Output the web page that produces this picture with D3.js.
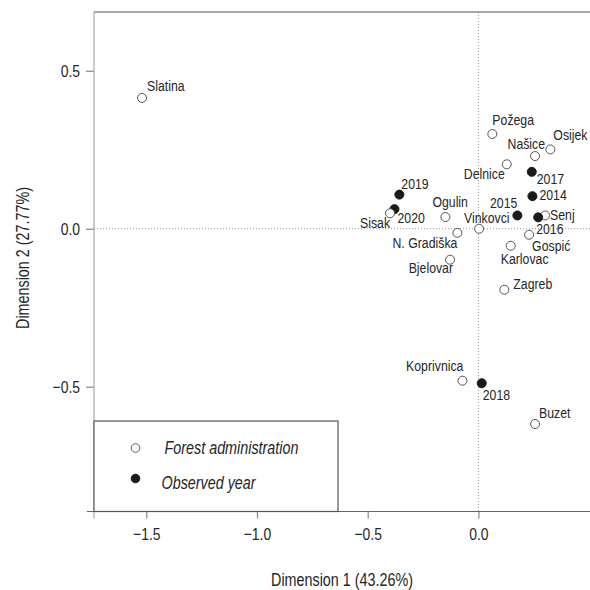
<!DOCTYPE html>
<html>
<head>
<meta charset="utf-8">
<script src="https://cdn.jsdelivr.net/npm/d3@7"></script>
<style>
  body { margin: 0; background: #fff; }
  svg { display: block; font-family: "Liberation Sans", Arial, sans-serif; }
</style>
</head>
<body>
<div id="chart"></div>
<script>
// correspondence analysis coordinates
const names = ["Slatina", "Požega", "Osijek", "Našice", "Delnice", "2017", "2014", "2019", "2020", "Sisak",
  "Ogulin", "2015", "Vinkovci", "Senj", "2016", "N. Gradiška", "Gospić", "Karlovac", "Bjelovar", "Zagreb",
  "Koprivnica", "2018", "Buzet"];
const dim1 = [-1.519, 0.063, 0.325, 0.256, 0.128, 0.241, 0.244, -0.357, -0.379, -0.399,
  -0.149, 0.176, 0.003, 0.301, 0.270, -0.095, 0.229, 0.146, -0.128, 0.117,
  -0.072, 0.015, 0.256];
const dim2 = [0.414, 0.300, 0.251, 0.230, 0.204, 0.180, 0.103, 0.108, 0.062, 0.049,
  0.037, 0.042, 0.000, 0.042, 0.036, -0.013, -0.019, -0.054, -0.098, -0.193,
  -0.481, -0.489, -0.618];
const kinds = ["fa", "fa", "fa", "fa", "fa", "yr", "yr", "yr", "yr", "fa",
  "fa", "yr", "fa", "fa", "yr", "fa", "fa", "fa", "fa", "fa",
  "fa", "yr", "fa"];

const legendLabels = ["Forest administration", "Observed year"];
const legendKinds = ["fa", "yr"];
const xTicks = [-1.5, -1.0, -0.5, 0.0];
const yTicks = [-0.5, 0.0, 0.5];
const xTitle = "Dimension 1 (43.26%)";
const yTitle = "Dimension 2 (27.77%)";

// label offsets in pixels from each point (dx, dy, anchor)
const labelPos = {
  "Slatina": [5, -7, "start"], "Požega": [0, -9, "start"], "Osijek": [3, -9, "start"],
  "Našice": [10, -7, "end"], "Delnice": [-2, 15, "end"], "2017": [5, 12, "start"],
  "2014": [7, 4, "start"], "2019": [2, -6, "start"], "2020": [3, 14, "start"],
  "Sisak": [0, 15, "end"], "Ogulin": [-13, -10, "start"], "2015": [0, -7, "end"],
  "Vinkovci": [-15, -6, "start"], "Senj": [5, 5, "start"], "2016": [-2, 17, "start"],
  "N. Gradiška": [0, 15, "end"], "Gospić": [3, 16, "start"], "Karlovac": [-10, 18, "start"],
  "Bjelovar": [3, 13, "end"], "Zagreb": [9, -1, "start"], "Koprivnica": [1, -10, "end"],
  "2018": [1, 17, "start"], "Buzet": [4, -6, "start"]
};

const points = names.map((n, i) => ({ name: n, x: dim1[i], y: dim2[i], kind: kinds[i] }));

const width = 590, height = 590;
const mLeft = 94, mRight = 590, mTop = 12, mBottom = 511.5;
const narrow = 0.82; // the original uses a condensed face, squeeze text horizontally
const ink = "#262626";

const x = d3.scaleLinear().domain([-1.736, 0.504]).range([mLeft, mRight]);
const y = d3.scaleLinear().domain([-0.895, 0.686]).range([mBottom, mTop]);

const svg = d3.select("#chart").append("svg")
  .attr("width", width)
  .attr("height", height)
  .attr("viewBox", [0, 0, width, height]);

// zero reference lines
svg.append("line")
  .attr("x1", mLeft).attr("x2", mRight)
  .attr("y1", y(0)).attr("y2", y(0))
  .attr("stroke", "#999").attr("stroke-dasharray", "1,2");
svg.append("line")
  .attr("x1", x(0)).attr("x2", x(0))
  .attr("y1", mTop).attr("y2", mBottom)
  .attr("stroke", "#999").attr("stroke-dasharray", "1,2");

// frame lines
svg.append("line")
  .attr("x1", mLeft).attr("x2", mRight).attr("y1", mTop).attr("y2", mTop)
  .attr("stroke", "#555").attr("stroke-width", 1.2);
svg.append("line")
  .attr("x1", mLeft).attr("x2", mLeft).attr("y1", mTop).attr("y2", mBottom + 7)
  .attr("stroke", "#aaa").attr("stroke-width", 1.2);
svg.append("line")
  .attr("x1", mLeft - 7).attr("x2", mRight).attr("y1", mBottom).attr("y2", mBottom)
  .attr("stroke", "#666").attr("stroke-width", 1.2);

// axes
const fmt = d3.format(".1f");
const xAxis = svg.append("g")
  .attr("transform", `translate(0,${mBottom})`)
  .call(d3.axisBottom(x).tickValues(xTicks).tickFormat(fmt).tickSize(7).tickPadding(9));
const yAxis = svg.append("g")
  .attr("transform", `translate(${mLeft},0)`)
  .call(d3.axisLeft(y).tickValues(yTicks).tickFormat(fmt).tickSize(8).tickPadding(9));
for (const g of [xAxis, yAxis]) {
  g.attr("font-family", null).attr("font-size", 17);
  g.select(".domain").remove();
  g.selectAll(".tick line").attr("stroke", "#888").attr("stroke-width", 1.2);
  g.selectAll(".tick text").attr("fill", ink).attr("transform", `scale(${narrow},1)`);
}

// axis titles
svg.append("text")
  .attr("transform", `translate(${(mLeft + mRight) / 2},586) scale(${narrow},1)`)
  .attr("text-anchor", "middle")
  .attr("font-size", 17.5)
  .attr("fill", ink)
  .text(xTitle);
svg.append("text")
  .attr("transform", `translate(29,258) rotate(-90) scale(${narrow},1)`)
  .attr("text-anchor", "middle")
  .attr("font-size", 17.5)
  .attr("fill", ink)
  .text(yTitle);

// legend box
svg.append("rect")
  .attr("x", mLeft).attr("y", 421)
  .attr("width", 338 - mLeft).attr("height", mBottom - 421)
  .attr("fill", "#fff").attr("stroke", "#555").attr("stroke-width", 1.2);

const legend = svg.append("g")
  .selectAll("g")
  .data(legendLabels)
  .join("g")
  .attr("transform", (d, i) => `translate(135.5,${448 + i * 30.5})`);
legend.append("circle")
  .attr("r", 4.3)
  .attr("fill", (d, i) => legendKinds[i] === "yr" ? "#1a1a1a" : "#fff")
  .attr("stroke", (d, i) => legendKinds[i] === "yr" ? "#1a1a1a" : "#555");
legend.append("text")
  .attr("transform", (d, i) => `translate(${i === 0 ? 29 : 26},${i === 0 ? 5.5 : 10}) scale(${narrow},1)`)
  .attr("font-size", 17.5)
  .attr("font-style", "italic")
  .attr("fill", ink)
  .text(d => d);

// points
svg.append("g")
  .selectAll("circle")
  .data(points)
  .join("circle")
  .attr("cx", d => x(d.x))
  .attr("cy", d => y(d.y))
  .attr("r", 4.5)
  .attr("fill", d => d.kind === "yr" ? "#1a1a1a" : "#fff")
  .attr("stroke", d => d.kind === "yr" ? "#1a1a1a" : "#555")
  .attr("stroke-width", 1);

// point labels
svg.append("g")
  .attr("font-size", 15)
  .attr("fill", ink)
  .selectAll("text")
  .data(points)
  .join("text")
  .attr("transform", d => `translate(${x(d.x) + labelPos[d.name][0]},${y(d.y) + labelPos[d.name][1]}) scale(${narrow},1)`)
  .attr("text-anchor", d => labelPos[d.name][2])
  .text(d => d.name);
</script>
</body>
</html>
